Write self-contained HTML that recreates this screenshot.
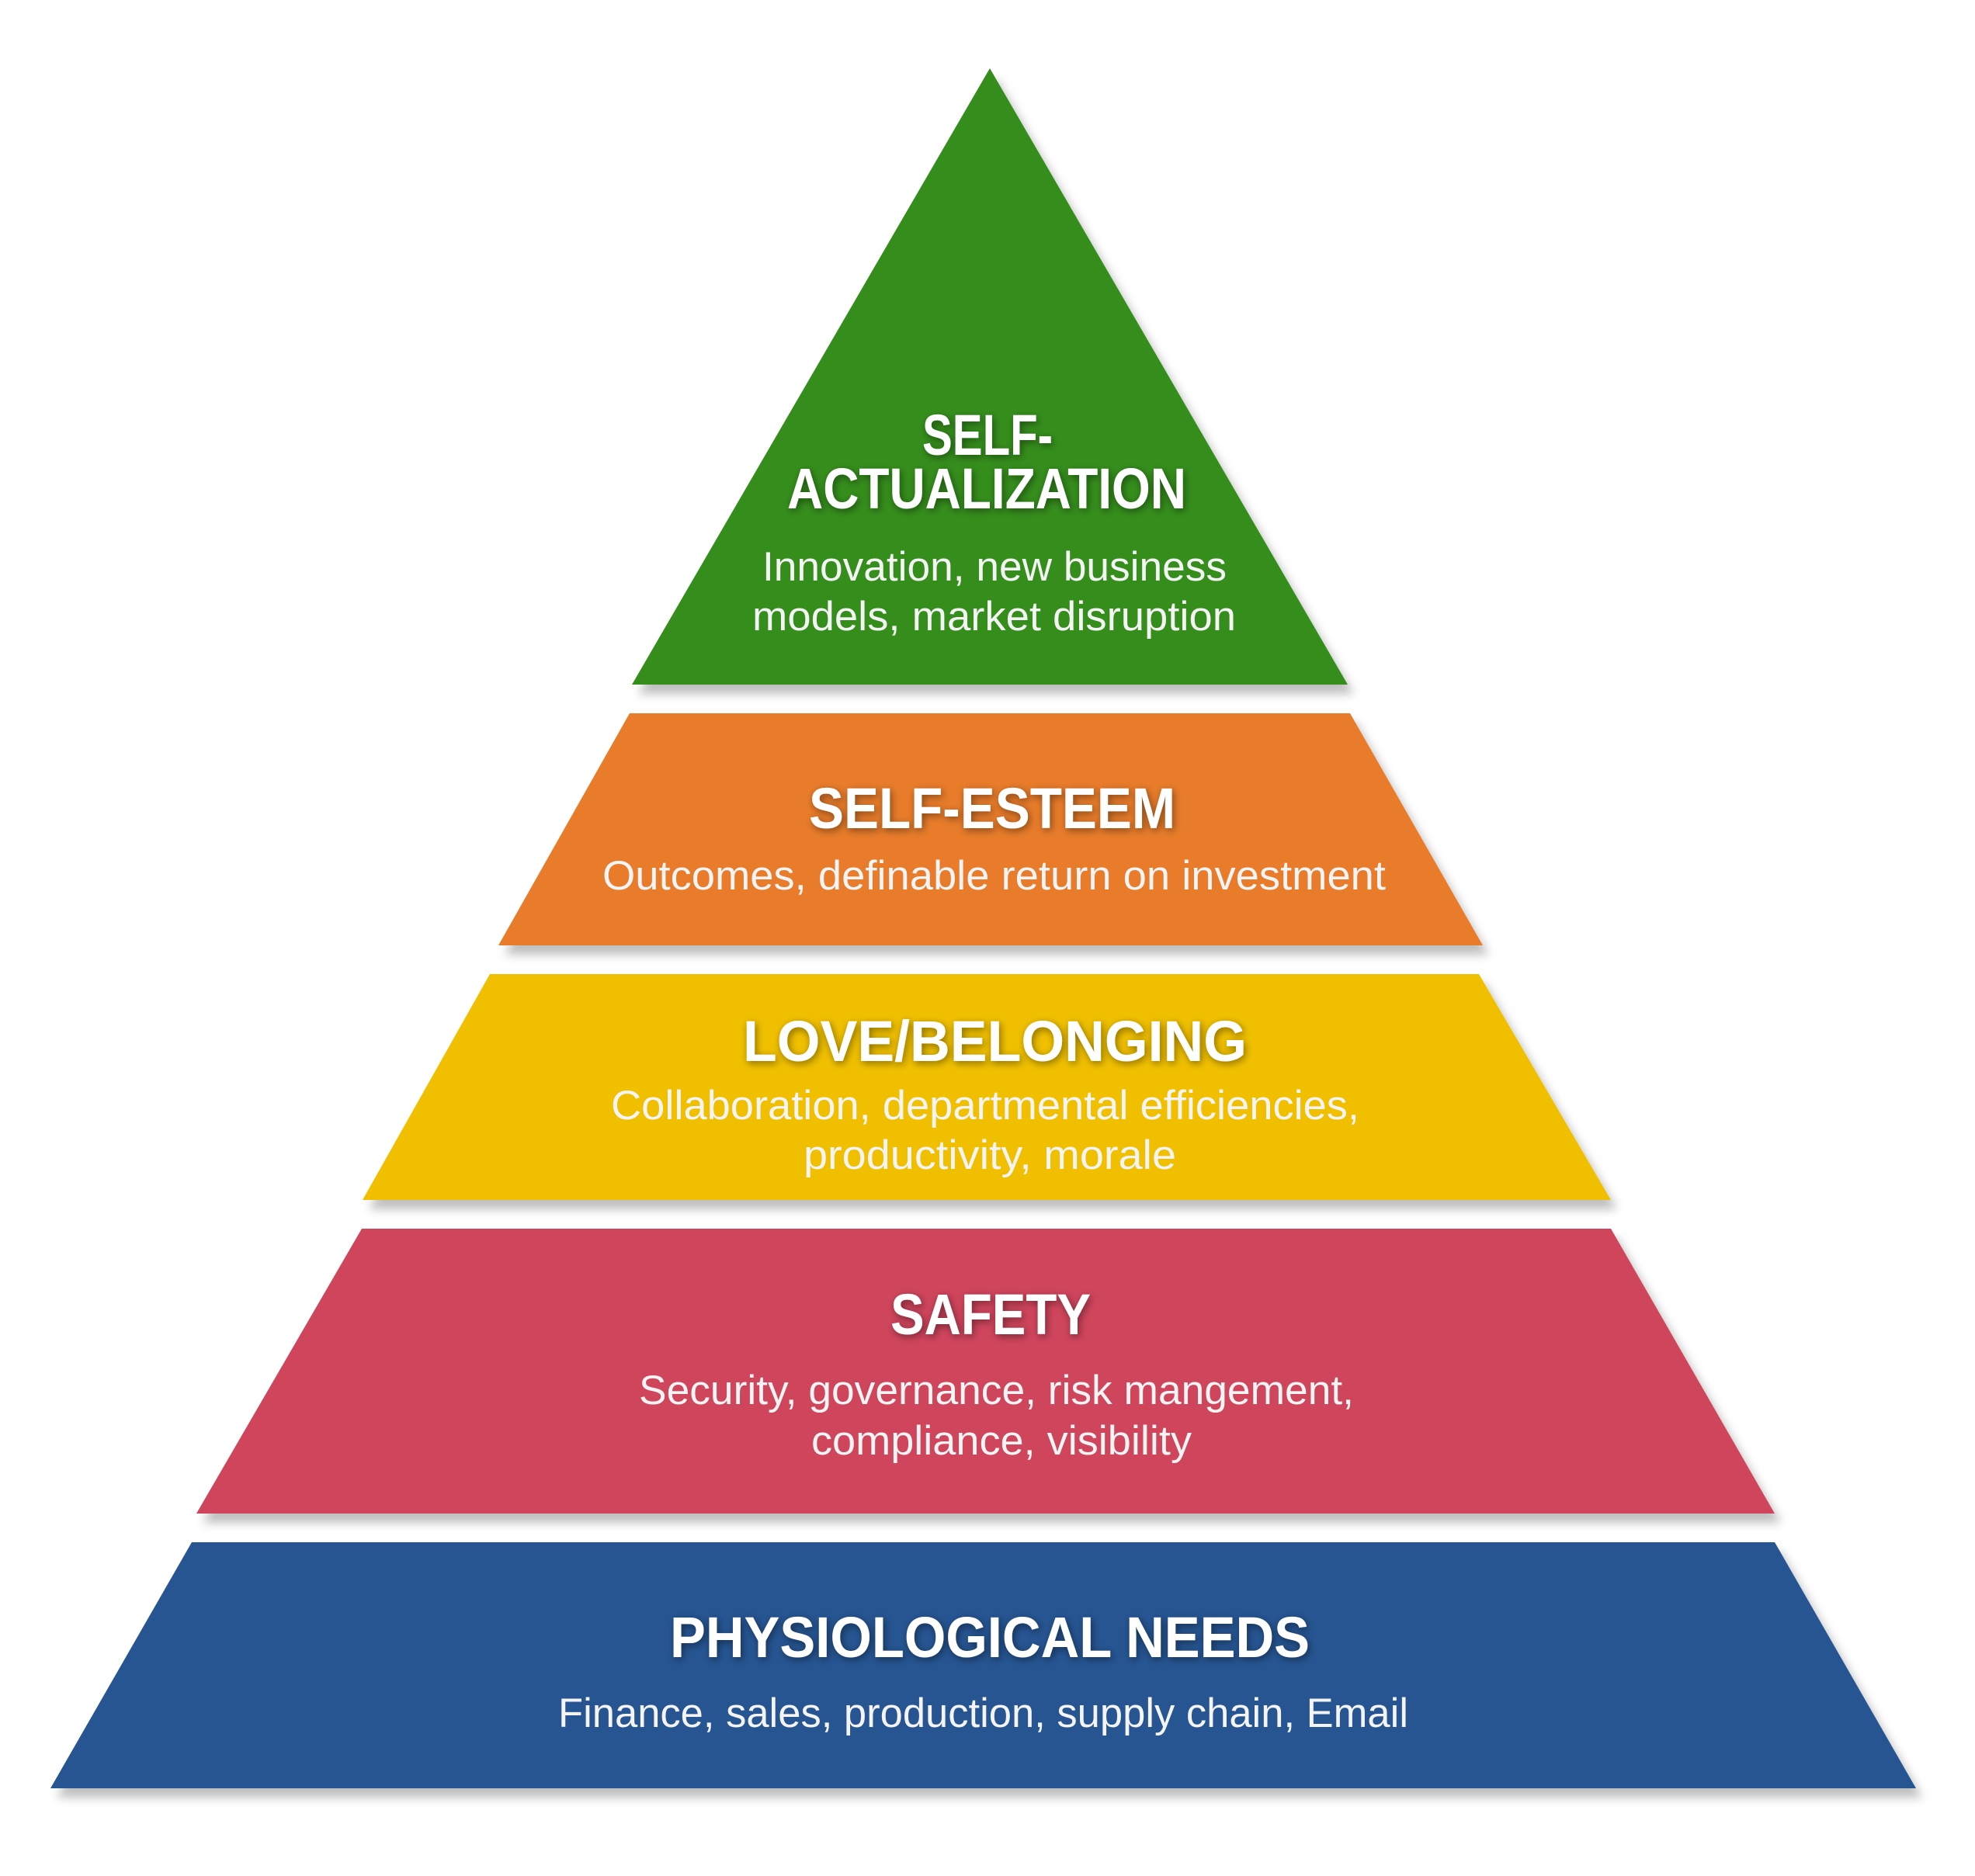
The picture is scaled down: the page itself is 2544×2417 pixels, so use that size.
<!DOCTYPE html>
<html><head><meta charset="utf-8"><style>html,body{margin:0;padding:0;background:#fff}svg{display:block}</style></head>
<body>
<svg width="2544" height="2417" viewBox="0 0 2544 2417" xmlns="http://www.w3.org/2000/svg">
<defs>
<filter id="sh" x="-10%" y="-10%" width="120%" height="130%">
<feGaussianBlur in="SourceAlpha" stdDeviation="6"/>
<feOffset dx="8" dy="12" result="b"/>
<feFlood flood-color="#000" flood-opacity="0.25"/>
<feComposite in2="b" operator="in"/>
<feMerge><feMergeNode/><feMergeNode in="SourceGraphic"/></feMerge>
</filter>
<filter id="ts" x="-10%" y="-30%" width="120%" height="160%">
<feGaussianBlur in="SourceAlpha" stdDeviation="5"/>
<feOffset dx="2" dy="3" result="b"/>
<feFlood flood-color="#000" flood-opacity="0.45"/>
<feComposite in2="b" operator="in"/>
<feMerge><feMergeNode/><feMergeNode in="SourceGraphic"/></feMerge>
</filter>
</defs>
<g filter="url(#sh)">
<polygon points="1275,88 1736,882 814,882" fill="#348e1f"/>
<polygon points="811,919 1739,919 1910,1218 642,1218" fill="#e87b2b"/>
<polygon points="631,1255 1905,1255 2075,1546 467,1546" fill="#f0c000"/>
<polygon points="466,1583 2075,1583 2286,1950 253,1950" fill="#cf455b"/>
<polygon points="247,1987 2286,1987 2468,2304 65,2304" fill="#265592"/>
</g>
<g font-family="'Liberation Sans', sans-serif" fill="#fff" lengthAdjust="spacingAndGlyphs">
<g font-weight="bold" font-size="74" filter="url(#ts)">
<text x="1188" y="586" textLength="168" lengthAdjust="spacingAndGlyphs">SELF-</text>
<text x="1014" y="655" textLength="514" lengthAdjust="spacingAndGlyphs">ACTUALIZATION</text>
<text x="1042" y="1067" textLength="472" lengthAdjust="spacingAndGlyphs">SELF-ESTEEM</text>
<text x="957" y="1367" textLength="649" lengthAdjust="spacingAndGlyphs">LOVE/BELONGING</text>
<text x="1147" y="1719" textLength="258" lengthAdjust="spacingAndGlyphs">SAFETY</text>
<text x="863" y="2135" textLength="824" lengthAdjust="spacingAndGlyphs">PHYSIOLOGICAL NEEDS</text>
</g>
<g font-size="53" fill="#f4f4f4">
<text x="982" y="748" textLength="598" lengthAdjust="spacingAndGlyphs">Innovation, new business</text>
<text x="969" y="812" textLength="623" lengthAdjust="spacingAndGlyphs">models, market disruption</text>
<text x="776" y="1146" textLength="1009" lengthAdjust="spacingAndGlyphs">Outcomes, definable return on investment</text>
<text x="787" y="1442" textLength="964" lengthAdjust="spacingAndGlyphs">Collaboration, departmental efficiencies,</text>
<text x="1035" y="1506" textLength="480" lengthAdjust="spacingAndGlyphs">productivity, morale</text>
<text x="823" y="1809" textLength="921" lengthAdjust="spacingAndGlyphs">Security, governance, risk mangement,</text>
<text x="1045" y="1874" textLength="490" lengthAdjust="spacingAndGlyphs">compliance, visibility</text>
<text x="719" y="2225" textLength="1095" lengthAdjust="spacingAndGlyphs">Finance, sales, production, supply chain, Email</text>
</g>
</g>
</svg>
</body></html>
